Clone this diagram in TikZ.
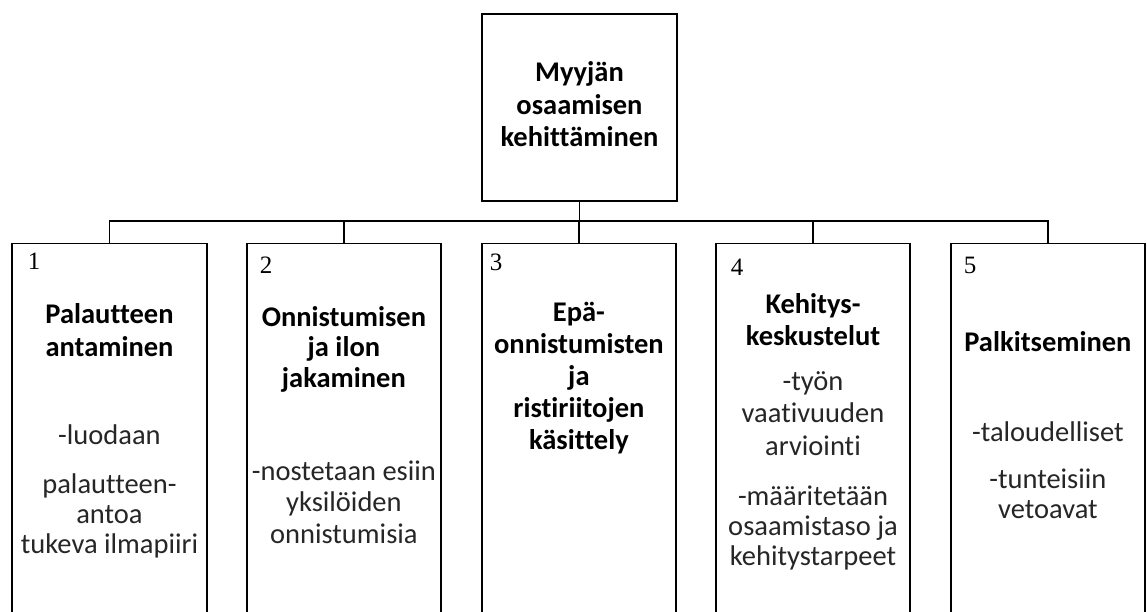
\documentclass[tikz,border=0pt]{standalone}
\usepackage{fontspec}
\setmainfont{Carlito}[Ligatures=NoCommon]
\newfontfamily\numfont{Liberation Serif}
\begin{document}
\begin{tikzpicture}[x=1pt,y=-1pt,
  line width=1.7pt,
  box/.style={draw=black, fill=white, inner sep=0pt, minimum width=194.5pt},
  child/.style={box, anchor=north, minimum height=460pt},
  % text blocks are placed by the baseline of their last line
  ttl/.style={font=\bfseries\fontsize{28.5}{#1}\selectfont, align=center, anchor=base, inner sep=0pt},
  ttl/.default=32,
  txt/.style={font=\fontsize{28.5}{#1}\selectfont, text=black!85, align=center, anchor=base, inner sep=0pt},
  txt/.default=30,
  num/.style={font=\numfont\fontsize{25}{28}\selectfont, anchor=base west, inner sep=0pt},
  link/.style={draw=black, line width=1.7pt}]
\useasboundingbox (0,0) rectangle (1147,611);
\clip (0,0) rectangle (1147,611);
\fill[white] (0,0) rectangle (1147,611);

% root box
\node[box, minimum width=195pt, minimum height=187pt] (root) at (579.5,107.5) {};
\node[ttl=32.5] (roottext) at (579.5,146.7) {Myyjän\\osaamisen\\kehittäminen};

% child boxes
\node[child] (b1) at (109.5,242.5) {};
\node[child] (b2) at (343.9,242.5) {};
\node[child] (b3) at (578.9,242.5) {};
\node[child] (b4) at (813.0,242.5) {};
\node[child] (b5) at (1047.9,242.5) {};

% connectors
\coordinate (bus) at (0,220.7);
\draw[link] (root.south) -- (root.south |- bus);
\draw[link] (b1.north) -- (b1.north |- bus) -- (b5.north |- bus) -- (b5.north);
\draw[link] (b2.north) -- (b2.north |- bus);
\draw[link] (b3.north) -- (b3.north |- bus);
\draw[link] (b4.north) -- (b4.north |- bus);

% numbers
\node[num] (n1) at (27,269.5) {1};
\node[num] (n2) at (259,273) {2};
\node[num] (n3) at (489,270) {3};
\node[num] (n4) at (730,275) {4};
\node[num] (n5) at (963,273) {5};

% box 1
\node[ttl=33] (t1) at (109.5,356) {Palautteen\\antaminen};
\node[txt] (p1a) at (109.5,444) {-luodaan};
\node[txt=30] (p1b) at (109.5,553) {palautteen-\\antoa\\tukeva ilmapiiri};

% box 2
\node[ttl=30.5] (t2) at (343.9,387) {Onnistumisen\\ja ilon\\jakaminen};
\node[txt=31.5] (p2a) at (343.9,543) {-nostetaan esiin\\yksilöiden\\onnistumisia};

% box 3
\node[ttl=32] (t3) at (578.9,449.7) {Epä-\\onnistumisten\\ja\\ristiriitojen\\käsittely};

% box 4
\node[ttl=32] (t4) at (813.0,345) {Kehitys-\\keskustelut};
\node[txt=32.5] (p4a) at (813.0,455) {-työn\\vaativuuden\\arviointi};
\node[txt=30] (p4b) at (813.0,565) {-määritetään\\osaamistaso ja\\kehitystarpeet};

% box 5
\node[ttl] (t5) at (1047.9,351.7) {Palkitseminen};
\node[txt] (p5a) at (1047.9,441.7) {-taloudelliset};
\node[txt=30] (p5b) at (1047.9,518) {-tunteisiin\\vetoavat};
\end{tikzpicture}
\end{document}
